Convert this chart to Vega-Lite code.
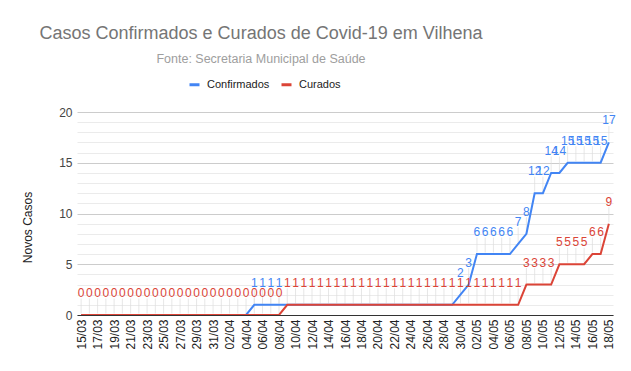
{
  "$schema": "https://vega.github.io/schema/vega-lite/v6.json",
  "width": 536,
  "height": 203,
  "autosize": {"type": "none"},
  "padding": {"left": 77, "top": 112, "right": 18, "bottom": 56},
  "background": "white",
  "config": {"font": "Liberation Sans", "view": {"stroke": null}},
  "title": {
    "text": "Casos Confirmados e Curados de Covid-19 em Vilhena",
    "subtitle": "Fonte: Secretaria Municipal de Saúde",
    "fontSize": 18,
    "fontWeight": "normal",
    "color": "#757575",
    "subtitleFontSize": 12.5,
    "subtitleColor": "#9e9e9e",
    "subtitlePadding": 10,
    "anchor": "middle",
    "frame": "group",
    "dx": -84,
    "offset": 13
  },
  "data": {
    "values": [
      {"Data": "15/03", "Confirmados": 0, "Curados": 0},
      {"Data": "16/03", "Confirmados": 0, "Curados": 0},
      {"Data": "17/03", "Confirmados": 0, "Curados": 0},
      {"Data": "18/03", "Confirmados": 0, "Curados": 0},
      {"Data": "19/03", "Confirmados": 0, "Curados": 0},
      {"Data": "20/03", "Confirmados": 0, "Curados": 0},
      {"Data": "21/03", "Confirmados": 0, "Curados": 0},
      {"Data": "22/03", "Confirmados": 0, "Curados": 0},
      {"Data": "23/03", "Confirmados": 0, "Curados": 0},
      {"Data": "24/03", "Confirmados": 0, "Curados": 0},
      {"Data": "25/03", "Confirmados": 0, "Curados": 0},
      {"Data": "26/03", "Confirmados": 0, "Curados": 0},
      {"Data": "27/03", "Confirmados": 0, "Curados": 0},
      {"Data": "28/03", "Confirmados": 0, "Curados": 0},
      {"Data": "29/03", "Confirmados": 0, "Curados": 0},
      {"Data": "30/03", "Confirmados": 0, "Curados": 0},
      {"Data": "31/03", "Confirmados": 0, "Curados": 0},
      {"Data": "01/04", "Confirmados": 0, "Curados": 0},
      {"Data": "02/04", "Confirmados": 0, "Curados": 0},
      {"Data": "03/04", "Confirmados": 0, "Curados": 0},
      {"Data": "04/04", "Confirmados": 0, "Curados": 0},
      {"Data": "05/04", "Confirmados": 1, "Curados": 0},
      {"Data": "06/04", "Confirmados": 1, "Curados": 0},
      {"Data": "07/04", "Confirmados": 1, "Curados": 0},
      {"Data": "08/04", "Confirmados": 1, "Curados": 0},
      {"Data": "09/04", "Confirmados": 1, "Curados": 1},
      {"Data": "10/04", "Confirmados": 1, "Curados": 1},
      {"Data": "11/04", "Confirmados": 1, "Curados": 1},
      {"Data": "12/04", "Confirmados": 1, "Curados": 1},
      {"Data": "13/04", "Confirmados": 1, "Curados": 1},
      {"Data": "14/04", "Confirmados": 1, "Curados": 1},
      {"Data": "15/04", "Confirmados": 1, "Curados": 1},
      {"Data": "16/04", "Confirmados": 1, "Curados": 1},
      {"Data": "17/04", "Confirmados": 1, "Curados": 1},
      {"Data": "18/04", "Confirmados": 1, "Curados": 1},
      {"Data": "19/04", "Confirmados": 1, "Curados": 1},
      {"Data": "20/04", "Confirmados": 1, "Curados": 1},
      {"Data": "21/04", "Confirmados": 1, "Curados": 1},
      {"Data": "22/04", "Confirmados": 1, "Curados": 1},
      {"Data": "23/04", "Confirmados": 1, "Curados": 1},
      {"Data": "24/04", "Confirmados": 1, "Curados": 1},
      {"Data": "25/04", "Confirmados": 1, "Curados": 1},
      {"Data": "26/04", "Confirmados": 1, "Curados": 1},
      {"Data": "27/04", "Confirmados": 1, "Curados": 1},
      {"Data": "28/04", "Confirmados": 1, "Curados": 1},
      {"Data": "29/04", "Confirmados": 1, "Curados": 1},
      {"Data": "30/04", "Confirmados": 2, "Curados": 1},
      {"Data": "01/05", "Confirmados": 3, "Curados": 1},
      {"Data": "02/05", "Confirmados": 6, "Curados": 1},
      {"Data": "03/05", "Confirmados": 6, "Curados": 1},
      {"Data": "04/05", "Confirmados": 6, "Curados": 1},
      {"Data": "05/05", "Confirmados": 6, "Curados": 1},
      {"Data": "06/05", "Confirmados": 6, "Curados": 1},
      {"Data": "07/05", "Confirmados": 7, "Curados": 1},
      {"Data": "08/05", "Confirmados": 8, "Curados": 3},
      {"Data": "09/05", "Confirmados": 12, "Curados": 3},
      {"Data": "10/05", "Confirmados": 12, "Curados": 3},
      {"Data": "11/05", "Confirmados": 14, "Curados": 3},
      {"Data": "12/05", "Confirmados": 14, "Curados": 5},
      {"Data": "13/05", "Confirmados": 15, "Curados": 5},
      {"Data": "14/05", "Confirmados": 15, "Curados": 5},
      {"Data": "15/05", "Confirmados": 15, "Curados": 5},
      {"Data": "16/05", "Confirmados": 15, "Curados": 6},
      {"Data": "17/05", "Confirmados": 15, "Curados": 6},
      {"Data": "18/05", "Confirmados": 17, "Curados": 9}
    ]
  },
  "transform": [{"fold": ["Confirmados", "Curados"], "as": ["Serie", "Casos"]}],
  "encoding": {
    "x": {
      "field": "Data",
      "type": "ordinal",
      "sort": null,
      "scale": {"type": "point", "padding": 0.5},
      "axis": {
        "title": null,
        "values": ["15/03","17/03","19/03","21/03","23/03","25/03","27/03","29/03","31/03","02/04","04/04","06/04","08/04","10/04","12/04","14/04","16/04","18/04","20/04","22/04","24/04","26/04","28/04","30/04","02/05","04/05","06/05","08/05","10/05","12/05","14/05","16/05","18/05"],
        "labelAngle": -90,
        "labelFontSize": 12,
        "labelColor": "#222222",
        "labelPadding": 4,
        "ticks": false,
        "grid": false,
        "domainColor": "#333333",
        "zindex": 1
      }
    },
    "y": {
      "field": "Casos",
      "type": "quantitative",
      "scale": {"domain": [0, 20], "nice": false},
      "axis": {
        "title": "Novos Casos",
        "values": [0,1,2,3,4,5,6,7,8,9,10,11,12,13,14,15,16,17,18,19,20],
        "labelExpr": "datum.value % 5 === 0 ? datum.label : ''",
        "gridColor": {"condition": {"test": "datum.value % 5 === 0", "value": "#cccccc"}, "value": "#ebebeb"},
        "ticks": false,
        "domain": false,
        "labelFontSize": 12,
        "labelColor": "#444444",
        "labelPadding": 5,
        "titleFontSize": 12,
        "titleFontWeight": "normal",
        "titleColor": "#222222",
        "titleAngle": -90,
        "titleX": -50,
        "titleY": 115,
        "titleAlign": "center",
        "titleBaseline": "middle"
      }
    },
    "color": {
      "field": "Serie",
      "type": "nominal",
      "scale": {"domain": ["Confirmados", "Curados"], "range": ["#4285f4", "#db4437"]},
      "legend": {
        "title": null,
        "orient": "none",
        "legendX": 111,
        "legendY": -34,
        "direction": "horizontal",
        "symbolType": "stroke",
        "symbolStrokeWidth": 3,
        "symbolSize": 100,
        "labelFontSize": 11,
        "labelColor": "#222222",
        "columnPadding": 5,
        "labelOffset": 6
      }
    }
  },
  "layer": [
    {
      "transform": [{"filter": "datum.Serie == 'Curados' || datum.Confirmados != datum.Curados"}],
      "mark": {"type": "tick", "orient": "vertical", "size": 15, "yOffset": -9, "thickness": 1},
      "encoding": {"color": {"value": "#dddddd"}}
    },
    {
      "mark": {"type": "line", "strokeWidth": 2}
    },
    {
      "transform": [{"filter": "datum.Serie == 'Curados' || datum.Confirmados != datum.Curados"}],
      "mark": {"type": "text", "dy": -22, "fontSize": 12, "baseline": "middle"},
      "encoding": {"text": {"field": "Casos", "type": "quantitative"}}
    }
  ]
}
